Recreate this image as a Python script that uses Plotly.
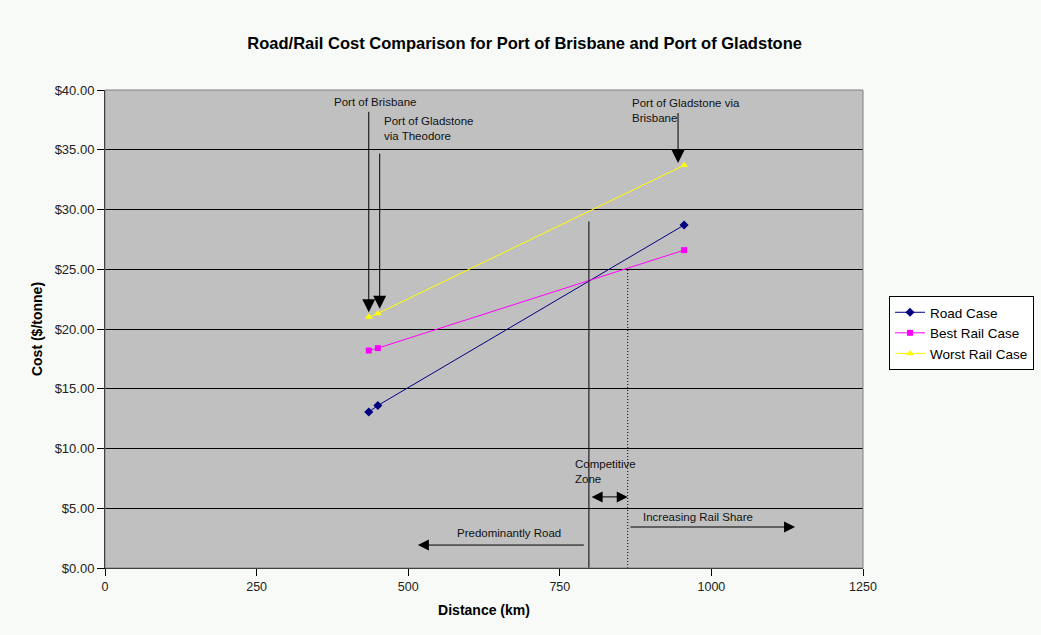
import plotly.graph_objects as go

distance = [435, 450, 955]
road_case = [13.05, 13.6, 28.7]
best_rail = [18.2, 18.4, 26.6]
worst_rail = [21.0, 21.3, 33.7]

x_ticks = [0, 250, 500, 750, 1000, 1250]
y_ticks = [0, 5, 10, 15, 20, 25, 30, 35, 40]
y_tick_text = ["$%.2f" % v for v in y_ticks]

FONT = "Liberation Sans, Arial, sans-serif"

fig = go.Figure()
fig.add_trace(go.Scatter(x=distance, y=road_case, name="Road Case", mode="lines+markers",
                         line=dict(color="#000080", width=1),
                         marker=dict(symbol="diamond", size=7, color="#000080")))
fig.add_trace(go.Scatter(x=distance, y=best_rail, name="Best Rail Case", mode="lines+markers",
                         line=dict(color="#FF00FF", width=1),
                         marker=dict(symbol="square", size=6, color="#FF00FF")))
fig.add_trace(go.Scatter(x=distance, y=worst_rail, name="Worst Rail Case", mode="lines+markers",
                         line=dict(color="#FFFF00", width=1),
                         marker=dict(symbol="triangle-up", size=7, color="#FFFF00")))

shapes = [
    dict(type="line", xref="x", yref="y", x0=798, x1=798, y0=0, y1=29.0,
         line=dict(color="black", width=1)),
    dict(type="line", xref="x", yref="y", x0=862, x1=862, y0=0, y1=25.1,
         line=dict(color="black", width=1, dash="1px,2px")),
    dict(type="rect", xref="paper", yref="paper", x0=0, x1=1, y0=0, y1=1,
         line=dict(color="#808080", width=1), layer="above"),
]

def arrow(x, y, ax, ay, side="end", size=2.2):
    return dict(x=x, y=y, ax=ax, ay=ay, xref="x", yref="y", axref="x", ayref="y",
                text="", showarrow=True, arrowhead=2, arrowsize=size, arrowwidth=1,
                arrowcolor="black", arrowside=side, standoff=0, startstandoff=0)

def label(x, y, text, xanchor="left"):
    return dict(x=x, y=y, xref="x", yref="y", text=text, showarrow=False,
                xanchor=xanchor, yanchor="middle", align="left",
                font=dict(family=FONT, size=11.5, color="#111111"))

annotations = [
    arrow(435, 21.4, 435, 38.3, size=2.6),
    arrow(453, 21.7, 453, 34.8, size=2.6),
    arrow(945, 33.9, 945, 38.2, size=2.6),
    arrow(862, 5.95, 800, 5.95, side="end+start", size=2.2),
    arrow(516, 1.92, 792, 1.92),
    arrow(1138, 3.43, 864, 3.43),
    label(445, 39.0, "Port of Brisbane", xanchor="center"),
    label(457, 36.8, "Port of Gladstone<br>via Theodore"),
    label(866, 38.3, "Port of Gladstone via<br>Brisbane"),
    label(772, 8.1, "Competitive<br>Zone"),
    label(667, 2.9, "Predominantly Road", xanchor="center"),
    label(884, 4.25, "Increasing Rail Share"),
]

fig.update_layout(
    width=1041, height=635,
    paper_bgcolor="#F7FAF7", plot_bgcolor="#C0C0C0",
    margin=dict(l=105, r=178, t=90, b=67, autoexpand=False),
    title=dict(text="<b>Road/Rail Cost Comparison for Port of Brisbane and Port of Gladstone</b>",
               x=0.504, xanchor="center", y=0.932, yanchor="middle",
               font=dict(family=FONT, size=16.5, color="black")),
    font=dict(family=FONT, size=12, color="#222222"),
    xaxis=dict(range=[0, 1250], tickvals=x_ticks, ticks="outside", ticklen=7,
               tickcolor="black", showline=True, linecolor="black", showgrid=False,
               zeroline=False, tickfont=dict(size=12.5),
               title=dict(text="<b>Distance (km)</b>", font=dict(size=14, color="black"), standoff=12)),
    yaxis=dict(range=[0, 40], tickvals=y_ticks, ticktext=y_tick_text, ticks="outside",
               ticklen=7, tickcolor="black", showline=True, linecolor="black",
               showgrid=True, gridcolor="black", gridwidth=1, zeroline=False,
               tickfont=dict(size=13),
               title=dict(text="<b>Cost ($/tonne)</b>", font=dict(size=14, color="black"), standoff=8)),
    legend=dict(xref="container", yref="container", x=889 / 1041, y=1 - 296 / 635,
                xanchor="left", yanchor="top", bgcolor="white",
                bordercolor="black", borderwidth=1, font=dict(family=FONT, size=13.5, color="black"),
                tracegroupgap=2, itemwidth=30),
    shapes=shapes,
    annotations=annotations,
    showlegend=True,
)

fig.write_html("out.html", config={"displayModeBar": False},
               post_script="document.body.style.margin='0px';document.body.style.background='#F7FAF7';")
